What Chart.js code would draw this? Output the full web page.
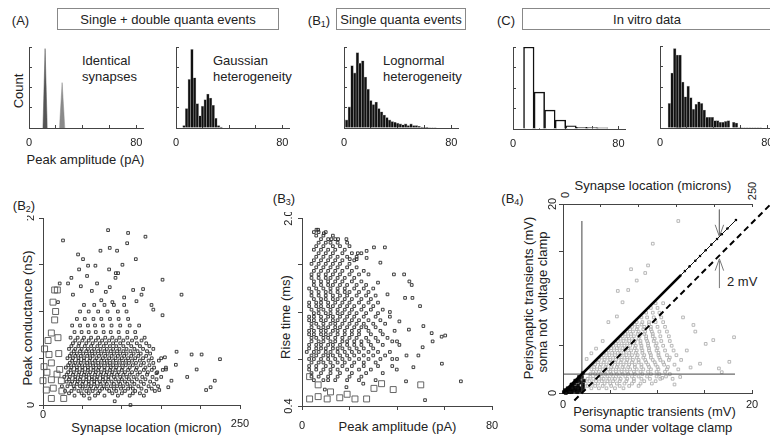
<!DOCTYPE html>
<html><head><meta charset="utf-8">
<script src="https://cdn.jsdelivr.net/npm/chart.js@4.4.1/dist/chart.umd.min.js"></script>
<style>
html,body{margin:0;padding:0;background:#fff;overflow:hidden;width:770px;height:437px;}
#root{position:relative;width:770px;height:437px;overflow:hidden;font-family:"Liberation Sans",Arial,Helvetica,sans-serif;color:#222;}
canvas{position:absolute;}
.t{position:absolute;white-space:nowrap;font-size:13px;line-height:1;}
.s{font-size:11px;}
.c{transform:translate(-50%,-50%);}
.l{transform:translateY(-50%);}
.rot{transform:translate(-50%,-50%) rotate(-90deg);}
.box{position:absolute;border:1px solid #888;box-sizing:border-box;display:flex;align-items:center;justify-content:center;font-size:13px;white-space:nowrap;}
sub{font-size:9px;vertical-align:-2px;line-height:0;}
</style></head>
<body><div id="root">
<div class="t c" style="left:20.5px;top:20px">(A)</div>
<div class="box" style="left:57px;top:8px;width:222px;height:22px">Single + double quanta events</div>
<div class="t c" style="left:319px;top:20px">(B<sub>1</sub>)</div>
<div class="box" style="left:336px;top:8px;width:130px;height:22px">Single quanta events</div>
<div class="t c" style="left:506px;top:20px">(C)</div>
<div class="box" style="left:522px;top:8px;width:250px;height:22px">In vitro data</div>
<div class="t rot" style="left:17.5px;top:91px">Count</div>
<div class="t c" style="left:85.5px;top:159px">Peak amplitude (pA)</div>
<div class="t l" style="left:82px;top:60px">Identical</div>
<div class="t l" style="left:82px;top:76px">synapses</div>
<div class="t l" style="left:213px;top:60px">Gaussian</div>
<div class="t l" style="left:213px;top:76px">heterogeneity</div>
<div class="t l" style="left:383px;top:60px">Lognormal</div>
<div class="t l" style="left:383px;top:76px">heterogeneity</div>
<div class="t c" style="left:24px;top:205px">(B<sub>2</sub>)</div>
<div class="t rot" style="left:27px;top:318px">Peak conductance (nS)</div>
<div class="t c" style="left:146.5px;top:427px">Synapse location (micron)</div>
<div class="t c" style="left:284px;top:197.5px">(B<sub>3</sub>)</div>
<div class="t rot" style="left:285px;top:317px">Rise time (ms)</div>
<div class="t c" style="left:397.5px;top:426px">Peak amplitude (pA)</div>
<div class="t c" style="left:512.5px;top:197.5px">(B<sub>4</sub>)</div>
<div class="t rot" style="left:528px;top:298px">Perisynaptic transients (mV)</div>
<div class="t rot" style="left:542px;top:301.5px">soma not&nbsp; voltage clamp</div>
<div class="t c" style="left:653px;top:184.5px">Synapse location (microns)</div>
<div class="t rot s" style="left:565px;top:195px">0</div>
<div class="t rot s" style="left:752px;top:191px">250</div>
<div class="t c" style="left:654.5px;top:411px">Perisynaptic transients (mV)</div>
<div class="t c" style="left:656px;top:426.5px">soma under voltage clamp</div>
<div class="t l" style="left:727px;top:281px">2 mV</div>
</div>
<script>
// ================= DATA =================
const histTicks = [0, 20, 40, 60, 80];
const histYTicks = [0, 25, 50, 75, 100];

// (A) identical synapses: two narrow peaks
const peak1 = [[10.4, 0], [12.0, 98], [13.6, 0]];
const peak2 = [[22.7, 0], [24.7, 56], [26.7, 0]];

// (A) Gaussian heterogeneity
const gaussBins = [6, 8, 10, 12, 14, 16, 18, 20, 22, 24, 26, 28, 30, 32, 34];
const gaussCounts = [3, 24, 60, 97, 62, 30, 15, 27, 35, 42, 37, 28, 12, 3, 1];

// (B1) Lognormal heterogeneity
const lognBins = [2, 4, 6, 8, 10, 12, 14, 16, 18, 20, 22, 24, 26, 28, 30, 32, 34, 36, 38, 40, 42, 44, 46, 48, 50, 52, 54, 56, 58, 60, 62, 64, 66, 68];
const lognCounts = [10, 26, 77, 68, 93, 80, 83, 63, 48, 34, 29, 32, 24, 20, 16, 13, 10, 8, 7, 6, 5, 4, 5, 3, 5, 3, 3, 2, 1, 0.8, 0.8, 0.6, 0.6, 0.6];

// (C) in vitro, coarse bins
const vitroBins1 = [12, 20, 28, 36, 44, 52, 60, 68];
const vitroCounts1 = [100, 45, 23, 11, 4, 2, 1.8, 1.5];

// (C) in vitro, fine bins
const vitroBins2 = [7, 9, 11, 13, 15, 17, 19, 21, 23, 25, 27, 29, 31, 33, 35, 37, 39, 41, 43, 45, 47, 49, 51, 53, 55, 57, 59, 61, 63, 65, 67, 69, 71, 73, 75];
const vitroCounts2 = [30, 67, 97, 89, 89, 56, 38, 51, 37, 23, 29, 32, 30, 22, 13, 13, 13, 9, 9, 7, 7, 8, 9, 0, 7, 6, 0.6, 0.6, 0.6, 0.6, 0.6, 0.6, 0.6, 0.6, 0.6];

// (B2) peak conductance (nS) vs synapse location (micron): rows of points [y, [x...]]
const b2Rows = [
  [0.10, [40, 52, 66, 78, 95, 110, 128]],
  [0.125, [33, 49, 58, 70, 88, 100, 114, 123]],
  [0.15, [28, 36, 45, 55, 63, 72, 84, 93, 104, 117, 131, 142]],
  [0.175, [40, 50, 59, 67, 75, 81, 90, 99, 108, 114, 125, 138]],
  [0.20, [24, 31, 39, 47, 54, 61, 69, 77, 86, 94, 102, 111, 121, 134, 146]],
  [0.225, [35, 43, 50, 58, 65, 73, 81, 90, 98, 107, 116, 128, 141]],
  [0.25, [30, 37, 44, 51, 58, 65, 72, 79, 87, 96, 104, 113, 124, 136]],
  [0.275, [33, 41, 47, 55, 62, 68, 76, 83, 92, 100, 109, 119, 130, 144]],
  [0.30, [27, 34, 41, 48, 55, 62, 69, 76, 83, 90, 98, 106, 115, 126, 139, 150]],
  [0.325, [30, 38, 45, 52, 58, 66, 73, 80, 87, 94, 102, 110, 120, 132]],
  [0.35, [32, 39, 46, 53, 60, 67, 74, 81, 88, 96, 104, 113, 123, 133, 145]],
  [0.375, [35, 43, 50, 57, 64, 70, 78, 85, 92, 100, 108, 118, 128, 138, 152]],
  [0.40, [29, 36, 43, 50, 57, 64, 71, 78, 86, 93, 101, 110, 119, 130, 141, 156]],
  [0.425, [32, 39, 46, 53, 60, 67, 74, 82, 89, 97, 105, 114, 124, 135]],
  [0.45, [34, 41, 48, 56, 63, 70, 78, 85, 93, 101, 109, 118, 128, 140]],
  [0.475, [37, 45, 52, 59, 66, 74, 81, 89, 97, 105, 113, 123, 134, 147]],
  [0.50, [31, 38, 45, 52, 60, 68, 76, 84, 92, 100, 108, 117, 127, 138, 150]],
  [0.525, [34, 41, 48, 56, 63, 71, 79, 87, 95, 103, 112, 121, 131]],
  [0.55, [36, 43, 51, 59, 66, 74, 82, 90, 98, 106, 115, 124, 136]],
  [0.575, [39, 47, 55, 62, 70, 78, 86, 94, 102, 111, 120, 132]],
  [0.60, [33, 41, 49, 57, 65, 73, 81, 89, 97, 106, 116, 127, 140]],
  [0.63, [36, 45, 53, 61, 69, 77, 85, 93, 102, 112, 123, 135]],
  [0.66, [38, 46, 55, 63, 72, 80, 89, 98, 108, 119, 131]],
  [0.69, [41, 50, 58, 67, 75, 84, 93, 102, 113, 125]],
  [0.72, [35, 44, 52, 61, 70, 79, 88, 97, 107, 118, 129]],
  [0.78, [40, 49, 58, 67, 77, 86, 96, 107, 117]],
  [0.85, [37, 47, 57, 66, 76, 87, 98, 110, 122]],
  [0.92, [43, 53, 64, 74, 85, 96, 108]],
  [1.00, [47, 58, 70, 82, 95, 106]],
  [1.07, [52, 65, 78, 90, 103]]
];
const b2Outliers = [[82.6,1.87],[25.4,1.76],[108,1.84],[130,1.80],[106.8,1.73],[84.7,1.68],[72.9,1.65],[94,1.65],[44.5,1.61],[50.8,1.56],[66.5,1.49],[57.2,1.49],[117.8,1.56],[100.8,1.50],[45.8,1.45],[83.9,1.45],[92.4,1.41],[95.3,1.41],[55.9,1.38],[68.6,1.30],[92,1.36],[151.7,1.34],[21.2,1.30],[31.8,1.30],[114.4,1.23],[127,1.24],[175.8,1.18],[125,1.18],[84.7,1.26],[79.7,1.21],[118.6,1.11],[137.7,1.07],[151.7,0.96],[19,1.10],[169.5,0.57],[188.6,0.54],[201.3,0.54],[224.6,0.49],[195,0.38],[183,0.30],[163,0.26],[218,0.26],[212.7,0.19],[207,0.16],[159,0.19],[147.5,0.16],[154.7,0.51],[168.6,0.43],[156,0.38],[144,0.34],[91,0.04],[111,0.0],[59,0.07],[38,1.18],[62,1.22],[74,1.12],[103,1.15],[140,1.02],[36,1.36],[48,1.27],[88,1.10]];
const b2Big = [[12.7,1.10],[14.8,1.23],[18.2,1.23],[14.8,0.91],[10.6,0.77],[6.4,0.69],[7.6,0.54],[10.6,0.45],[21.2,0.38],[1.3,0.41],[0,0.26],[10.6,0.27],[4.2,0.16],[26.3,0.07],[10.6,0.07],[23.3,0.26],[17.8,0.33],[2,0.60],[16,1.00],[20,0.55],[5,0.35],[13,0.18],[24,0.15],[19,0.72]];

// (B3) rise time (ms) vs peak amplitude (pA)
const b3Rows = [
  [0.62, [5, 9, 14, 19, 24, 31]],
  [0.65, [4, 7, 11, 15, 20, 25]],
  [0.68, [4, 8, 12, 16, 21, 27, 34]],
  [0.71, [3, 6, 9, 12, 15, 19, 24, 29]],
  [0.74, [3, 6, 10, 13, 17, 21, 26, 32, 38]],
  [0.77, [4, 7, 9, 12, 15, 18, 22, 26, 31]],
  [0.80, [3, 5, 8, 11, 14, 17, 20, 24, 28, 33, 40]],
  [0.83, [4, 6, 9, 11, 13, 16, 19, 22, 26, 30, 35]],
  [0.86, [2, 5, 7, 10, 12, 15, 18, 21, 24, 28, 32, 37]],
  [0.89, [3, 6, 8, 10, 13, 15, 17, 20, 23, 26, 30]],
  [0.92, [3, 6, 8, 11, 13, 16, 19, 22, 25, 29, 34, 41]],
  [0.95, [4, 7, 9, 12, 14, 17, 19, 22, 25, 28, 32, 38]],
  [0.98, [4, 6, 9, 11, 14, 17, 20, 23, 27, 31, 36]],
  [1.01, [3, 5, 8, 10, 12, 15, 18, 21, 24, 29, 34]],
  [1.04, [3, 5, 8, 10, 13, 15, 18, 21, 24, 28, 33, 39]],
  [1.07, [4, 7, 9, 11, 14, 16, 19, 22, 25, 27, 31]],
  [1.10, [4, 6, 9, 12, 14, 17, 20, 23, 26, 30, 35]],
  [1.13, [3, 5, 8, 10, 13, 15, 18, 21, 24, 28, 33]],
  [1.16, [3, 5, 8, 11, 13, 16, 19, 22, 26, 31, 37]],
  [1.19, [5, 7, 10, 12, 15, 17, 20, 23, 27, 32]],
  [1.22, [4, 7, 9, 12, 15, 18, 21, 25, 29, 34]],
  [1.25, [3, 6, 8, 11, 13, 16, 19, 22, 26, 30]],
  [1.28, [3, 6, 8, 11, 14, 17, 20, 24, 28, 32]],
  [1.31, [5, 8, 10, 13, 15, 18, 21, 25, 29]],
  [1.34, [4, 7, 10, 13, 16, 19, 23, 27, 31]],
  [1.37, [4, 7, 10, 12, 15, 18, 20, 24, 28]],
  [1.40, [3, 6, 9, 12, 15, 18, 22, 26, 30]],
  [1.43, [5, 8, 11, 13, 16, 19, 23, 27]],
  [1.46, [5, 8, 11, 14, 17, 21, 25]],
  [1.49, [4, 7, 10, 12, 15, 18, 22]],
  [1.52, [4, 7, 10, 13, 16, 20, 24, 28]],
  [1.55, [5, 8, 11, 14, 17, 21, 26]],
  [1.58, [6, 9, 12, 15, 19, 23]],
  [1.61, [4, 7, 10, 13, 16, 20]],
  [1.64, [5, 8, 11, 14, 17, 22]],
  [1.67, [6, 9, 12, 15, 19, 23]],
  [1.70, [7, 10, 13, 17, 21, 25]],
  [1.73, [5, 8, 11, 14, 18]],
  [1.76, [6, 9, 13, 16, 20]],
  [1.79, [7, 10, 12, 15, 19]],
  [1.82, [8, 11, 14]],
  [1.85, [6, 9, 13]],
  [1.88, [5, 7, 10]]
];
const b3Outliers = [[6.1,1.90],[6.8,1.90],[9.2,1.87],[12.4,1.82],[15.2,1.82],[18.7,1.82],[30.3,1.75],[34.9,1.75],[27.2,1.72],[23.5,1.70],[20.1,1.65],[23,1.65],[27.2,1.66],[38.7,1.52],[43,1.52],[45.2,1.46],[46.2,1.43],[43.4,1.32],[46.5,1.32],[49.7,1.25],[51.1,1.08],[54.6,1.02],[60.3,1.00],[58.8,0.99],[55,0.95],[50.8,0.90],[58.9,0.76],[66.9,0.61],[49,0.83],[44,0.83],[46.9,0.73],[43.8,0.61],[51.8,0.45],[9.6,0.54],[18.7,0.56],[11,0.62],[25.8,0.59],[39.9,0.71],[37,1.20],[41,1.12],[36,1.35],[32,1.45],[33,1.62],[40,0.95],[45,1.05],[38,0.80]];
const b3Big = [[50,0.58],[38.4,0.54],[30.3,0.55],[27.2,0.46],[22.3,0.46],[15.9,0.47],[10.6,0.46],[3.2,0.46],[6.8,0.48],[3.2,0.65],[6.8,0.58],[33.5,0.59],[12,0.52],[19,0.50]];

// (B4) transients (mV): soma not clamped vs soma clamped
const b4Rows = [
  [0.5, [2.2, 3.0, 3.8, 4.6, 5.5, 6.4]],
  [0.75, [2.6, 3.4, 4.2, 5.1, 6.0, 7.0, 8.0]],
  [1.0, [2.4, 3.1, 3.7, 4.4, 5.0, 5.7, 6.5, 7.3, 8.2, 9.4]],
  [1.25, [2.8, 3.5, 4.1, 4.7, 5.3, 6.0, 6.7, 7.5, 8.6, 9.8]],
  [1.5, [2.6, 3.2, 3.8, 4.3, 4.9, 5.5, 6.1, 6.8, 7.5, 8.3, 9.2, 10.3, 11.6]],
  [1.75, [2.9, 3.5, 4.1, 4.7, 5.3, 5.9, 6.6, 7.3, 8.0, 8.9, 9.9, 10.9]],
  [2.0, [2.9, 3.4, 4.0, 4.5, 5.1, 5.7, 6.3, 6.9, 7.6, 8.4, 9.3, 10.2, 11.3]],
  [2.25, [3.2, 3.8, 4.4, 5.0, 5.6, 6.2, 6.8, 7.5, 8.2, 9.0, 9.9, 10.8]],
  [2.5, [3.0, 3.6, 4.2, 4.8, 5.3, 5.9, 6.5, 7.1, 7.8, 8.5, 9.3, 10.1, 11.0, 12.2]],
  [2.75, [3.3, 3.9, 4.5, 5.1, 5.7, 6.3, 6.9, 7.6, 8.3, 9.1, 10.0, 11.1]],
  [3.0, [3.4, 4.0, 4.6, 5.2, 5.8, 6.4, 7.0, 7.6, 8.3, 9.0, 9.8, 10.7, 11.8]],
  [3.25, [3.7, 4.3, 4.9, 5.5, 6.1, 6.7, 7.3, 8.0, 8.8, 9.7, 10.6]],
  [3.5, [3.8, 4.4, 5.0, 5.6, 6.2, 6.8, 7.4, 8.0, 8.7, 9.5, 10.3, 11.2, 12.5]],
  [3.75, [4.1, 4.7, 5.3, 5.9, 6.5, 7.1, 7.8, 8.5, 9.3, 10.2, 11.3]],
  [4.0, [4.3, 4.9, 5.5, 6.1, 6.7, 7.3, 7.9, 8.6, 9.3, 10.1, 11.0, 12.0]],
  [4.25, [4.6, 5.2, 5.8, 6.4, 7.0, 7.7, 8.4, 9.2, 10.1]],
  [4.5, [4.8, 5.4, 6.0, 6.6, 7.2, 7.8, 8.4, 9.1, 9.9, 10.8, 11.7]],
  [4.75, [5.1, 5.7, 6.3, 6.9, 7.6, 8.3, 9.1, 10.0]],
  [5.0, [5.3, 5.9, 6.5, 7.1, 7.7, 8.3, 9.0, 9.8, 10.6, 11.5]],
  [5.25, [5.6, 6.2, 6.8, 7.5, 8.2, 9.0, 9.9]],
  [5.5, [5.8, 6.4, 7.0, 7.6, 8.2, 8.9, 9.6, 10.4, 11.3]],
  [5.75, [6.1, 6.7, 7.3, 8.0, 8.8, 9.7]],
  [6.0, [6.3, 6.9, 7.5, 8.1, 8.8, 9.5, 10.3, 11.2]],
  [6.25, [6.6, 7.2, 7.9, 8.6, 9.5]],
  [6.5, [6.8, 7.4, 8.0, 8.7, 9.4, 10.2, 11.0]],
  [6.75, [7.1, 7.8, 8.5, 9.3]],
  [7.0, [7.3, 7.9, 8.6, 9.3, 10.0, 10.8]],
  [7.25, [7.6, 8.3, 9.1]],
  [7.5, [7.8, 8.4, 9.1, 9.8, 10.6]],
  [8.0, [8.3, 8.9, 9.6, 10.4]],
  [8.5, [8.8, 9.5, 10.2]],
  [9.0, [9.3, 10.0]],
  [9.5, [9.8, 10.6]]
];
const b4Outliers = [[3.5,4.7],[4.2,5.5],[4.8,7.5],[5.7,8.1],[5.8,10.8],[6.3,9.6],[7.8,11.9],[8.7,12.7],[9.5,15.8],[12.2,18.2],[6.9,10.9],[9,13.5],[7.2,13.1],[2.5,3.6],[3.0,4.2],[18.1,5.9],[15.1,5.2],[15.9,5.6],[17.6,3.3],[16.8,2.2],[14.5,3.1],[13.1,4.5],[10.5,1.6],[12.4,1.7],[13.5,2.7],[16.5,2.6],[11.8,0.9],[14.0,6.5],[12.7,8.0],[13.8,7.2]];
const b4Black = [[0.1,0.1],[0.3,0.2],[0.5,0.4],[0.4,0.1],[0.7,0.5],[0.8,0.3],[1.0,0.8],[1.1,0.4],[1.2,1.0],[1.3,0.6],[1.5,1.2],[1.4,0.3],[1.6,0.8],[1.7,1.4],[1.8,0.5],[1.9,1.1],[2.0,1.7],[2.1,0.9],[2.2,1.3],[2.0,0.3],[0.2,0.3],[0.6,0.2],[0.9,0.1],[1.2,0.2],[1.5,0.1],[1.8,0.2],[2.1,0.6],[0.5,0.5],[0.9,0.9],[1.3,1.3],[1.7,1.7],[2.1,2.1],[1.0,0.5],[1.6,0.5],[0.3,0.0],[0.7,0.1]];
const diagThick = [[0, 0], [12.5, 12.5]];
const diagThin = [[12.5, 12.5], [18.3, 18.3]];
const diagDots = [[12.9,12.9],[13.4,13.4],[14.0,14.0],[14.5,14.5],[15.1,15.1],[15.7,15.7],[16.3,16.3],[16.8,16.8],[17.4,17.4],[18.3,18.3]];
const dashLine = [[1.2, -0.8], [22, 20]];
const vLine = [[2, 0], [2, 18.2]];
const hLine = [[0, 2], [18.2, 2]];
const arrowDownShaft = [[16.55, 19.4], [16.55, 16.7]];
const arrowDownHead = [[16.1, 17.8], [16.55, 16.55], [17.0, 17.8]];
const arrowUpShaft = [[16.55, 11.1], [16.55, 14.0]];
const arrowUpHead = [[16.1, 12.95], [16.55, 14.2], [17.0, 12.95]];

// ================= HELPERS =================
const FONT = '"Liberation Sans", Arial, Helvetica, sans-serif';
Chart.defaults.font.family = FONT;
Chart.defaults.color = '#222';
Chart.defaults.animation = false;
Chart.defaults.plugins.legend.display = false;
Chart.defaults.plugins.tooltip.enabled = false;
Chart.defaults.events = [];
const AX = '#444';
const root = document.getElementById('root');
const pts = a => a.map(p => ({x: p[0], y: p[1]}));
const rowsToPts = rows => pts(rows.flatMap(r => r[1].map(x => [x, r[0]])));
const bars = (bins, counts) => bins.map((b, i) => ({x: b, y: counts[i]}));

function makeCanvas(area, m) {
  const c = document.createElement('canvas');
  const w = area.r - area.l + m.l + m.r, h = area.b - area.t + m.t + m.b;
  c.width = w; c.height = h;
  Object.assign(c.style, {left: (area.l - m.l) + 'px', top: (area.t - m.t) + 'px', width: w + 'px', height: h + 'px'});
  root.appendChild(c);
  return c;
}
function zeroPad(s) { s.paddingLeft = 0; s.paddingRight = 0; s.paddingTop = 0; s.paddingBottom = 0; }
function hAxis(o) {
  return {
    type: 'linear', position: o.pos || 'bottom', min: o.min, max: o.max, offset: false,
    afterBuildTicks: s => { s.ticks = o.ticks.map(v => ({value: v})); },
    ticks: { display: o.label !== null, callback: o.label || (() => ''), autoSkip: false, minRotation: 0, maxRotation: 0,
             padding: o.pad || 0, font: o.font || {size: 11}, color: '#222' },
    grid: { display: true, offset: false, drawOnChartArea: false, drawTicks: true, tickLength: o.tl, color: AX, tickColor: AX, tickWidth: 1 },
    border: { display: true, color: AX, width: 1 },
    afterFit: s => { s.height = o.h; zeroPad(s); }
  };
}
function vAxis(o) {
  return {
    type: 'linear', position: 'left', min: o.min, max: o.max,
    afterBuildTicks: s => { s.ticks = o.ticks.map(v => ({value: v})); },
    ticks: { display: !!o.label, callback: o.label || (() => ''), autoSkip: false, minRotation: 90, maxRotation: 90,
             crossAlign: 'center', padding: o.pad || 0, font: {size: 11}, color: '#222' },
    grid: { display: true, drawOnChartArea: false, drawTicks: true, tickLength: o.tl, color: AX, tickColor: AX, tickWidth: 1 },
    border: { display: true, color: AX, width: 1 },
    afterFit: s => { s.width = o.w; zeroPad(s); }
  };
}
const histLabel = v => (v === 0 || v === 80) ? String(v) : '';
function hist(area, m, type, datasets) {
  new Chart(makeCanvas(area, m), {
    type, data: {datasets},
    options: {
      responsive: false, devicePixelRatio: 1, animation: false,
      layout: {padding: {left: 0, right: m.r, top: m.t, bottom: 0}},
      scales: {
        x: hAxis({min: 0, max: 85, ticks: histTicks, label: histLabel, tl: -3, pad: 11, h: m.b}),
        y: vAxis({min: 0, max: 100, ticks: histYTicks, tl: -3, w: m.l})
      }
    }
  });
}
const HM = {l: 8, t: 4, r: 14, b: 22};
const blackBar = d => ({data: d, backgroundColor: '#111', borderColor: '#9a9a9a', borderWidth: 0.6, barPercentage: 1, categoryPercentage: 1});

// ================= TOP ROW =================
hist({l: 29, r: 143, t: 47, b: 128}, HM, 'scatter', [
  {data: pts(peak1), showLine: true, fill: 'origin', backgroundColor: '#555', borderColor: '#555', borderWidth: 0.5, pointRadius: 0},
  {data: pts(peak2), showLine: true, fill: 'origin', backgroundColor: '#8a8a8a', borderColor: '#8a8a8a', borderWidth: 0.5, pointRadius: 0}
]);
hist({l: 176, r: 289, t: 47, b: 128}, HM, 'bar', [blackBar(bars(gaussBins, gaussCounts))]);
hist({l: 344, r: 458, t: 47, b: 128}, HM, 'bar', [blackBar(bars(lognBins, lognCounts))]);
hist({l: 513, r: 625, t: 47, b: 129}, HM, 'bar', [
  {data: bars(vitroBins1, vitroCounts1), backgroundColor: '#fff', borderColor: '#111', borderWidth: 1.5, barPercentage: 1, categoryPercentage: 1}
]);
hist({l: 660, r: 774, t: 46, b: 128}, HM, 'bar', [blackBar(bars(vitroBins2, vitroCounts2))]);

// ================= B2 =================
const smallSq = (d, color, order) => ({data: d, pointStyle: 'rect', pointRadius: 1.9, borderWidth: 0.9, borderColor: color, backgroundColor: 'rgba(255,255,255,0)', clip: false, order});
const bigSq = (d, order) => ({data: d, pointStyle: 'rect', pointRadius: 4.2, borderWidth: 0.9, borderColor: '#555', backgroundColor: 'rgba(255,255,255,0)', clip: false, order});
const lineDs = (d, color, width, order, dash) => ({data: pts(d), showLine: true, borderColor: color, borderWidth: width, pointRadius: 0, fill: false, tension: 0, clip: false, order, borderDash: dash || []});

(function () {
  const m = {l: 16, t: 6, r: 14, b: 26};
  new Chart(makeCanvas({l: 43, r: 240, t: 218, b: 405}, m), {
    type: 'scatter',
    data: {datasets: [
      smallSq(rowsToPts(b2Rows), '#2a2a2a', 2),
      smallSq(pts(b2Outliers), '#2a2a2a', 1),
      bigSq(pts(b2Big), 0)
    ]},
    options: {
      responsive: false, devicePixelRatio: 1, animation: false,
      layout: {padding: {left: 0, right: m.r, top: m.t, bottom: 0}},
      scales: {
        x: hAxis({min: 0, max: 250, ticks: [0, 50, 100, 150, 200, 250],
                  label: v => v === 0 ? '0' : (v === 250 ? ['', '250'] : ''),
                  tl: 4, pad: 1.5, h: m.b, font: {size: 11, lineHeight: 0.82}}),
        y: vAxis({min: 0, max: 2, ticks: [0, 0.5, 1, 1.5, 2], label: v => v === 0 ? '0' : (v === 2 ? '2' : ''), tl: 4, pad: 4.6, w: m.l})
      }
    }
  });
})();

// ================= B3 =================
(function () {
  const m = {l: 20, t: 6, r: 14, b: 28};
  new Chart(makeCanvas({l: 302, r: 492, t: 218, b: 406}, m), {
    type: 'scatter',
    data: {datasets: [
      smallSq(rowsToPts(b3Rows), '#2a2a2a', 2),
      smallSq(pts(b3Outliers), '#2a2a2a', 1),
      bigSq(pts(b3Big), 0)
    ]},
    options: {
      responsive: false, devicePixelRatio: 1, animation: false,
      layout: {padding: {left: 0, right: m.r, top: m.t, bottom: 0}},
      scales: {
        x: hAxis({min: 0, max: 80, ticks: [0, 20, 40, 60, 80], label: histLabel, tl: 4, pad: 9.4, h: m.b}),
        y: vAxis({min: 0.4, max: 2.0, ticks: [0.4, 0.8, 1.2, 1.6, 2.0],
                  label: (v, i, t) => i === 0 ? '0.4' : (i === t.length - 1 ? '2.0' : ''), tl: 4, pad: 1.4, w: m.l})
      }
    }
  });
})();

// ================= B4 =================
(function () {
  const m = {l: 16, t: 30, r: 22, b: 22};
  new Chart(makeCanvas({l: 563, r: 752, t: 204, b: 393}, m), {
    type: 'scatter',
    data: {datasets: [
      lineDs(diagThick, '#000', 2.6, 1),
      lineDs(diagThin, '#111', 1, 1),
      {data: pts(diagDots), pointStyle: 'circle', pointRadius: 1.3, backgroundColor: '#000', borderWidth: 0, clip: false, order: 1},
      lineDs(dashLine, '#000', 2, 1, [6, 4]),
      lineDs(vLine, '#444', 1, 2),
      lineDs(hLine, '#444', 1, 2),
      lineDs(arrowDownShaft, '#777', 1, 2),
      lineDs(arrowDownHead, '#777', 1, 2),
      lineDs(arrowUpShaft, '#777', 1, 2),
      lineDs(arrowUpHead, '#777', 1, 2),
      {data: pts(b4Black), pointStyle: 'rect', pointRadius: 2.1, backgroundColor: '#111', borderColor: '#000', borderWidth: 0.6, clip: false, order: 3},
      smallSq(rowsToPts(b4Rows), '#b0b0b0', 4),
      smallSq(pts(b4Outliers), '#b0b0b0', 4)
    ]},
    options: {
      responsive: false, devicePixelRatio: 1, animation: false,
      layout: {padding: {left: 0, right: m.r, top: 0, bottom: 0}},
      scales: {
        x: hAxis({min: 0, max: 20, ticks: [0, 5, 10, 15, 20], label: v => (v === 0 || v === 20) ? String(v) : '', tl: -3, pad: 8.4, h: m.b}),
        x2: hAxis({pos: 'top', min: 0, max: 250, ticks: [0, 50, 100, 150, 200, 250], label: null, tl: -3, h: m.t}),
        y: vAxis({min: 0, max: 20, ticks: [0, 5, 10, 15, 20], label: v => (v === 0 || v === 20) ? String(v) : '', tl: 4, pad: 0, w: m.l})
      }
    }
  });
})();
</script>
</body></html>
